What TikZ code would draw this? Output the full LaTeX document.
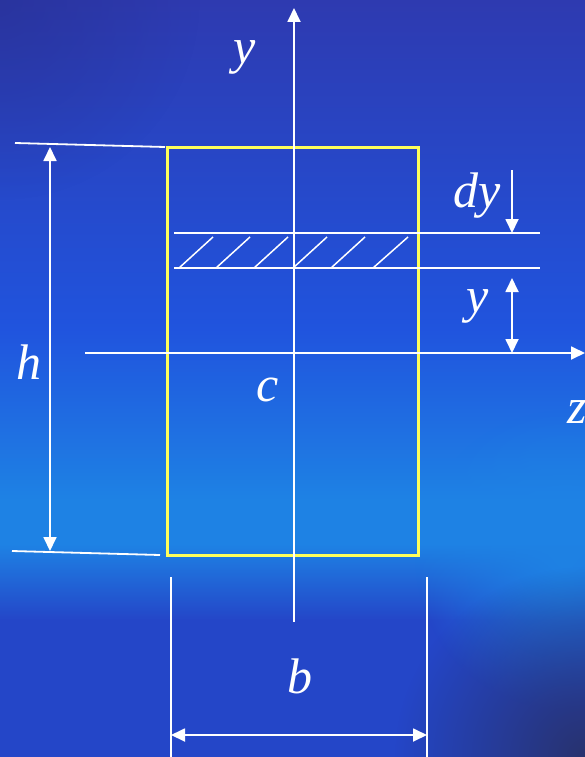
\documentclass[tikz,border=0pt]{standalone}
\usepackage{fontspec}
\setmainfont{Liberation Serif}
\usetikzlibrary{arrows.meta,fadings}
\tikzfading[name=softspot, inner color=transparent!0, outer color=transparent!100]
\definecolor{bgtop}{RGB}{46,58,176}
\definecolor{bgmid}{RGB}{32,84,222}
\definecolor{bgbot}{RGB}{36,70,200}
\definecolor{bglight}{RGB}{30,130,228}
\definecolor{bgdark}{RGB}{40,50,110}
\definecolor{secyellow}{RGB}{255,255,90}
\tikzset{
  wline/.style={white, line width=1.8pt},
  dimarrow/.style={white, line width=1.8pt, -{Triangle[length=14pt,width=13pt]}},
  dimdarrow/.style={white, line width=1.8pt, {Triangle[length=14pt,width=13pt]}-{Triangle[length=14pt,width=13pt]}},
  lbl/.style={white, font=\fontsize{50}{54}\selectfont\itshape, inner sep=0pt},
  hatch/.style={white, line width=1.5pt}
}
\begin{document}
\begin{tikzpicture}[x=1pt,y=-1pt]
\useasboundingbox (0,0) rectangle (585,757);
% background
\shade[top color=bgtop, bottom color=bgmid] (0,0) rectangle (585,330);
\shade[top color=bgmid, bottom color=bglight] (0,329) rectangle (585,500);
\shade[top color=bglight, bottom color=bglight] (0,499) rectangle (585,545);
\shade[top color=bglight, bottom color=bgbot] (0,544) rectangle (585,620);
\fill[bgbot] (0,619) rectangle (585,757);
\fill[bglight, path fading=softspot] (565,560) circle (150);
\fill[bgdark, path fading=softspot] (585,757) circle (190);
\fill[bgtop!80!black, opacity=0.5, path fading=softspot] (0,0) circle (200);
% section rectangle
\node[draw=secyellow, line width=3pt, minimum width=251pt, minimum height=408pt, inner sep=0pt] (sec) at (292.5,351) {};
% axes
\coordinate (yb) at (294,622);
\coordinate (yt) at (294,8);
\coordinate (zl) at (85,353);
\coordinate (zr) at (585,353);
\draw[dimarrow] (yb) -- (yt);
\draw[dimarrow] (zl) -- (zr);
% strip
\coordinate (s1l) at (174,233); \coordinate (s1r) at (540,233);
\coordinate (s2l) at (174,268); \coordinate (s2r) at (540,268);
\draw[wline] (s1l) -- (s1r);
\draw[wline] (s2l) -- (s2r);
\foreach \xb/\xt in {179/213, 216/250, 254/288, 293/327, 331/365, 373/408}
  \draw[hatch] (\xb,268) -- (\xt,237);
% dy arrow
\coordinate (dyt) at (512,170); \coordinate (dyb) at (512,233);
\draw[dimarrow] (dyt) -- (dyb);
\node[lbl] (dylab) at (477,196) {dy};
% y arrow
\coordinate (yat) at (512,278); \coordinate (yab) at (512,353);
\draw[dimdarrow] (yat) -- (yab);
\node[lbl] (ylab2) at (478,306) {y};
% h dimension
\coordinate (ht1) at (15,143); \coordinate (ht2) at (165,147);
\coordinate (hb1) at (12,551); \coordinate (hb2) at (160,555);
\draw[wline] (ht1) -- (ht2);
\draw[wline] (hb1) -- (hb2);
\coordinate (ha) at (50,147); \coordinate (hz) at (50,551);
\draw[dimdarrow] (ha) -- (hz);
\node[lbl] (hlab) at (29,362) {h};
% b dimension
\coordinate (bl1) at (171,577); \coordinate (bl2) at (171,757);
\coordinate (br1) at (427,577); \coordinate (br2) at (427,757);
\draw[wline] (bl1) -- (bl2);
\draw[wline] (br1) -- (br2);
\coordinate (ba) at (171,735); \coordinate (bz) at (427,735);
\draw[dimdarrow] (ba) -- (bz);
\node[lbl] (blab) at (300,676) {b};
% labels
\node[lbl] (ylab) at (245,57) {y};
\node[lbl] (clab) at (268,390) {c};
\node[lbl] (zlab) at (577,412) {z};
\end{tikzpicture}
\end{document}
